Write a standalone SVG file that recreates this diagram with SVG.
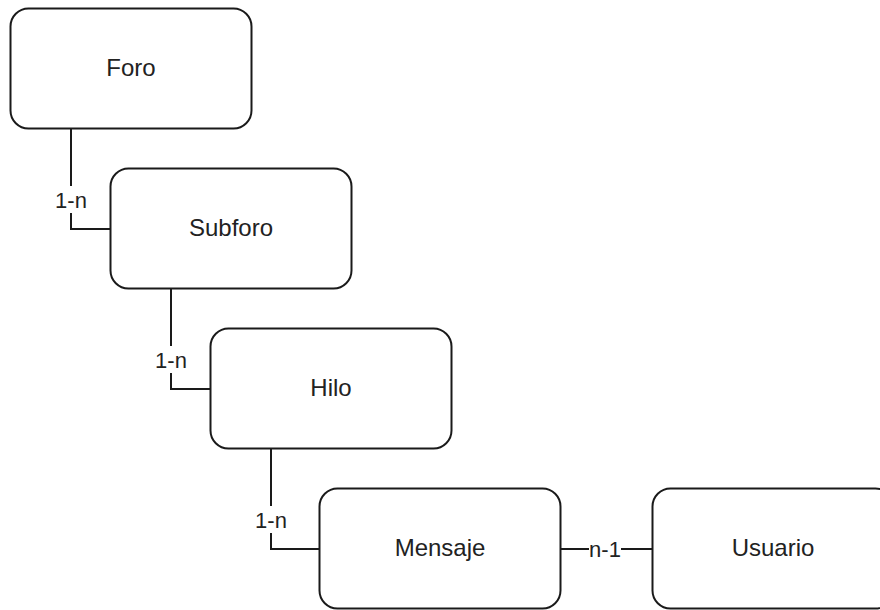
<svg xmlns="http://www.w3.org/2000/svg" width="880" height="610" viewBox="0 0 880 610">
  <style>
    .box { fill: #ffffff; stroke: #1a1a1a; stroke-width: 2; }
    .name { font-family: "Liberation Sans", Arial, sans-serif; font-size: 24px; fill: #222222; text-anchor: middle; }
    .link { fill: none; stroke: #1a1a1a; stroke-width: 2; }
    .card { font-family: "Liberation Sans", Arial, sans-serif; font-size: 22px; fill: #222222; text-anchor: middle; }
    .cardbg { fill: #ffffff; }
  </style>
  <rect width="880" height="610" fill="#ffffff"/>

  <g id="connectors">
    <path class="link" d="M71 128.5 V229 H110.5"/>
    <path class="link" d="M171 288.5 V389 H210.5"/>
    <path class="link" d="M271 448.5 V549 H319.5"/>
    <path class="link" d="M560.5 549 H652.5"/>
    <rect class="cardbg" x="54" y="186" width="34" height="27"/>
    <text class="card" x="71" y="207.5">1-n</text>
    <rect class="cardbg" x="154" y="346" width="34" height="27"/>
    <text class="card" x="171" y="367.5">1-n</text>
    <rect class="cardbg" x="254" y="506" width="34" height="27"/>
    <text class="card" x="271" y="527.5">1-n</text>
    <rect class="cardbg" x="589" y="537" width="32" height="24"/>
    <text class="card" x="605" y="557">n-1</text>
  </g>

  <g id="foro">
    <rect class="box" x="10.5" y="8.5" width="241" height="120" rx="18"/>
    <text class="name" x="131" y="75.5">Foro</text>
  </g>
  <g id="subforo">
    <rect class="box" x="110.5" y="168.5" width="241" height="120" rx="18"/>
    <text class="name" x="231" y="235.5">Subforo</text>
  </g>
  <g id="hilo">
    <rect class="box" x="210.5" y="328.5" width="241" height="120" rx="18"/>
    <text class="name" x="331" y="395.5">Hilo</text>
  </g>
  <g id="mensaje">
    <rect class="box" x="319.5" y="488.5" width="241" height="120" rx="18"/>
    <text class="name" x="440" y="555.5">Mensaje</text>
  </g>
  <g id="usuario">
    <rect class="box" x="652.5" y="488.5" width="241" height="120" rx="18"/>
    <text class="name" x="773" y="555.5">Usuario</text>
  </g>
</svg>
